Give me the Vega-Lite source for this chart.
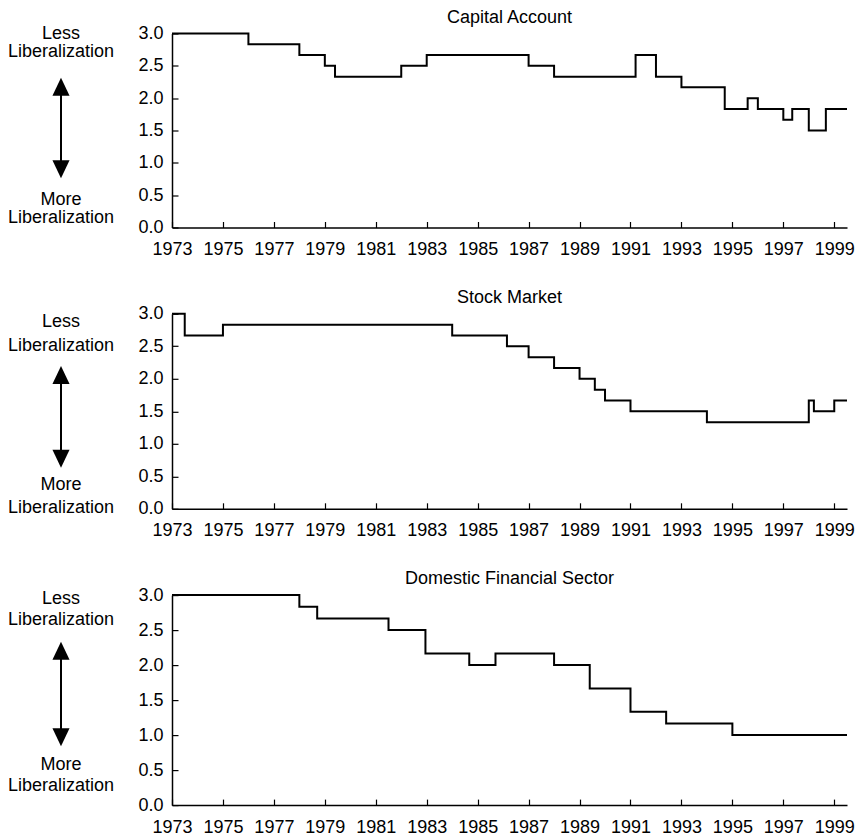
{
  "$schema": "https://vega.github.io/schema/vega-lite/v6.json",
  "padding": {"left": 1, "top": 8.5, "right": 0, "bottom": 0},
  "background": "white",
  "config": {
    "view": {"stroke": null},
    "font": "Liberation Sans",
    "axis": {"grid": false, "domainColor": "black", "tickColor": "black", "labelColor": "black", "labelFont": "Liberation Sans", "labelFontSize": 18, "domainWidth": 1.5, "tickWidth": 1.2, "tickSize": -6, "title": null, "labelFlush": false},
    "title": {"font": "Liberation Sans", "fontSize": 18, "fontWeight": "normal", "color": "black", "offset": -2.25, "anchor": "middle"},
    "text": {"font": "Liberation Sans", "fontSize": 18, "color": "black"}
  },
  "datasets": {
    "ca": [
      {"year": 1973, "v": 3.0}, {"year": 1976.0, "v": 2.833}, {"year": 1978.0, "v": 2.667}, {"year": 1979.0, "v": 2.5},
      {"year": 1979.4, "v": 2.333}, {"year": 1982.0, "v": 2.5}, {"year": 1983.0, "v": 2.667}, {"year": 1987.0, "v": 2.5},
      {"year": 1988.0, "v": 2.333}, {"year": 1991.2, "v": 2.667}, {"year": 1992.0, "v": 2.333}, {"year": 1993.0, "v": 2.167},
      {"year": 1994.7, "v": 1.833}, {"year": 1995.6, "v": 2.0}, {"year": 1996.0, "v": 1.833}, {"year": 1997.0, "v": 1.667},
      {"year": 1997.35, "v": 1.833}, {"year": 1998.0, "v": 1.5}, {"year": 1998.67, "v": 1.833}, {"year": 1999.5, "v": 1.833}
    ],
    "sm": [
      {"year": 1973, "v": 3.0}, {"year": 1973.5, "v": 2.667}, {"year": 1975.0, "v": 2.833}, {"year": 1984.0, "v": 2.667},
      {"year": 1986.15, "v": 2.5}, {"year": 1987.0, "v": 2.333}, {"year": 1988.0, "v": 2.167}, {"year": 1989.0, "v": 2.0},
      {"year": 1989.6, "v": 1.833}, {"year": 1990.0, "v": 1.667}, {"year": 1991.0, "v": 1.5}, {"year": 1994.0, "v": 1.333},
      {"year": 1998.0, "v": 1.667}, {"year": 1998.2, "v": 1.5}, {"year": 1999.0, "v": 1.667}, {"year": 1999.5, "v": 1.667}
    ],
    "dfs": [
      {"year": 1973, "v": 3.0}, {"year": 1978.0, "v": 2.833}, {"year": 1978.7, "v": 2.667}, {"year": 1981.5, "v": 2.5},
      {"year": 1982.95, "v": 2.167}, {"year": 1984.67, "v": 2.0}, {"year": 1985.7, "v": 2.167}, {"year": 1988.0, "v": 2.0},
      {"year": 1989.4, "v": 1.667}, {"year": 1991.0, "v": 1.333}, {"year": 1992.4, "v": 1.167}, {"year": 1995.0, "v": 1.0},
      {"year": 1999.5, "v": 1.0}
    ],
    "ann": [
      {"p": "ca", "k": "text", "t": "Less", "y": 3.0},
      {"p": "ca", "k": "text", "t": "Liberalization", "y": 2.72},
      {"p": "ca", "k": "rule", "y": 2.175, "y2": 0.9},
      {"p": "ca", "k": "up", "y": 2.175},
      {"p": "ca", "k": "down", "y": 0.9},
      {"p": "ca", "k": "text", "t": "More", "y": 0.43},
      {"p": "ca", "k": "text", "t": "Liberalization", "y": 0.15},
      {"p": "sm", "k": "text", "t": "Less", "y": 2.87},
      {"p": "sm", "k": "text", "t": "Liberalization", "y": 2.5},
      {"p": "sm", "k": "rule", "y": 2.06, "y2": 0.77},
      {"p": "sm", "k": "up", "y": 2.06},
      {"p": "sm", "k": "down", "y": 0.77},
      {"p": "sm", "k": "text", "t": "More", "y": 0.36},
      {"p": "sm", "k": "text", "t": "Liberalization", "y": 0.02},
      {"p": "dfs", "k": "text", "t": "Less", "y": 2.94},
      {"p": "dfs", "k": "text", "t": "Liberalization", "y": 2.65},
      {"p": "dfs", "k": "rule", "y": 2.205, "y2": 0.97},
      {"p": "dfs", "k": "up", "y": 2.205},
      {"p": "dfs", "k": "down", "y": 0.97},
      {"p": "dfs", "k": "text", "t": "More", "y": 0.57},
      {"p": "dfs", "k": "text", "t": "Liberalization", "y": 0.28}
    ]
  },
  "spacing": 30.3,
  "vconcat": [
    {
      "bounds": "flush",
      "spacing": 51,
      "hconcat": [
        {
          "width": 120, "height": 194,
          "data": {"name": "ann"},
          "transform": [{"filter": "datum.p == 'ca'"}],
          "encoding": {
            "x": {"datum": 0.5, "type": "quantitative", "scale": {"domain": [0, 1]}, "axis": null},
            "y": {"field": "y", "type": "quantitative", "scale": {"domain": [0, 3], "nice": false}, "axis": null}
          },
          "layer": [
            {"transform": [{"filter": "datum.k == 'text'"}], "mark": {"type": "text", "baseline": "middle", "align": "center"}, "encoding": {"text": {"field": "t"}}},
            {"transform": [{"filter": "datum.k == 'rule'"}], "mark": {"type": "rule", "strokeWidth": 2, "color": "black"}, "encoding": {"y2": {"field": "y2"}}},
            {"transform": [{"filter": "datum.k == 'up'"}], "mark": {"type": "point", "shape": "M0,-1L0.95,1L-0.95,1Z", "filled": true, "size": 324, "color": "black", "opacity": 1}},
            {"transform": [{"filter": "datum.k == 'down'"}], "mark": {"type": "point", "shape": "M0,1L0.95,-1L-0.95,-1Z", "filled": true, "size": 324, "color": "black", "opacity": 1}}
          ]
        },
        {
          "width": 675, "height": 194,
          "title": {"text": "Capital Account"},
          "data": {"name": "ca"},
          "mark": {"type": "line", "interpolate": "step-after", "color": "black", "strokeWidth": 2},
          "encoding": {
            "x": {"field": "year", "type": "quantitative", "scale": {"domain": [1973, 1999.5], "nice": false, "zero": false}, "axis": {"values": [1973, 1975, 1977, 1979, 1981, 1983, 1985, 1987, 1989, 1991, 1993, 1995, 1997, 1999], "format": "d", "labelPadding": 19}},
            "y": {"field": "v", "type": "quantitative", "scale": {"domain": [0, 3], "nice": false}, "axis": {"values": [0, 0.5, 1, 1.5, 2, 2.5, 3], "format": ".1f", "labelPadding": 15}}
          }
        }
      ]
    },
    {
      "bounds": "flush",
      "spacing": 51,
      "hconcat": [
        {
          "width": 120, "height": 195,
          "data": {"name": "ann"},
          "transform": [{"filter": "datum.p == 'sm'"}],
          "encoding": {
            "x": {"datum": 0.5, "type": "quantitative", "scale": {"domain": [0, 1]}, "axis": null},
            "y": {"field": "y", "type": "quantitative", "scale": {"domain": [0, 3], "nice": false}, "axis": null}
          },
          "layer": [
            {"transform": [{"filter": "datum.k == 'text'"}], "mark": {"type": "text", "baseline": "middle", "align": "center"}, "encoding": {"text": {"field": "t"}}},
            {"transform": [{"filter": "datum.k == 'rule'"}], "mark": {"type": "rule", "strokeWidth": 2, "color": "black"}, "encoding": {"y2": {"field": "y2"}}},
            {"transform": [{"filter": "datum.k == 'up'"}], "mark": {"type": "point", "shape": "M0,-1L0.95,1L-0.95,1Z", "filled": true, "size": 324, "color": "black", "opacity": 1}},
            {"transform": [{"filter": "datum.k == 'down'"}], "mark": {"type": "point", "shape": "M0,1L0.95,-1L-0.95,-1Z", "filled": true, "size": 324, "color": "black", "opacity": 1}}
          ]
        },
        {
          "width": 675, "height": 195,
          "title": {"text": "Stock Market"},
          "data": {"name": "sm"},
          "mark": {"type": "line", "interpolate": "step-after", "color": "black", "strokeWidth": 2},
          "encoding": {
            "x": {"field": "year", "type": "quantitative", "scale": {"domain": [1973, 1999.5], "nice": false, "zero": false}, "axis": {"values": [1973, 1975, 1977, 1979, 1981, 1983, 1985, 1987, 1989, 1991, 1993, 1995, 1997, 1999], "format": "d", "labelPadding": 19}},
            "y": {"field": "v", "type": "quantitative", "scale": {"domain": [0, 3], "nice": false}, "axis": {"values": [0, 0.5, 1, 1.5, 2, 2.5, 3], "format": ".1f", "labelPadding": 15}}
          }
        }
      ]
    },
    {
      "bounds": "flush",
      "spacing": 51,
      "hconcat": [
        {
          "width": 120, "height": 210,
          "data": {"name": "ann"},
          "transform": [{"filter": "datum.p == 'dfs'"}],
          "encoding": {
            "x": {"datum": 0.5, "type": "quantitative", "scale": {"domain": [0, 1]}, "axis": null},
            "y": {"field": "y", "type": "quantitative", "scale": {"domain": [0, 3], "nice": false}, "axis": null}
          },
          "layer": [
            {"transform": [{"filter": "datum.k == 'text'"}], "mark": {"type": "text", "baseline": "middle", "align": "center"}, "encoding": {"text": {"field": "t"}}},
            {"transform": [{"filter": "datum.k == 'rule'"}], "mark": {"type": "rule", "strokeWidth": 2, "color": "black"}, "encoding": {"y2": {"field": "y2"}}},
            {"transform": [{"filter": "datum.k == 'up'"}], "mark": {"type": "point", "shape": "M0,-1L0.95,1L-0.95,1Z", "filled": true, "size": 324, "color": "black", "opacity": 1}},
            {"transform": [{"filter": "datum.k == 'down'"}], "mark": {"type": "point", "shape": "M0,1L0.95,-1L-0.95,-1Z", "filled": true, "size": 324, "color": "black", "opacity": 1}}
          ]
        },
        {
          "width": 675, "height": 210,
          "title": {"text": "Domestic Financial Sector"},
          "data": {"name": "dfs"},
          "mark": {"type": "line", "interpolate": "step-after", "color": "black", "strokeWidth": 2},
          "encoding": {
            "x": {"field": "year", "type": "quantitative", "scale": {"domain": [1973, 1999.5], "nice": false, "zero": false}, "axis": {"values": [1973, 1975, 1977, 1979, 1981, 1983, 1985, 1987, 1989, 1991, 1993, 1995, 1997, 1999], "format": "d", "labelPadding": 19}},
            "y": {"field": "v", "type": "quantitative", "scale": {"domain": [0, 3], "nice": false}, "axis": {"values": [0, 0.5, 1, 1.5, 2, 2.5, 3], "format": ".1f", "labelPadding": 15}}
          }
        }
      ]
    }
  ]
}
